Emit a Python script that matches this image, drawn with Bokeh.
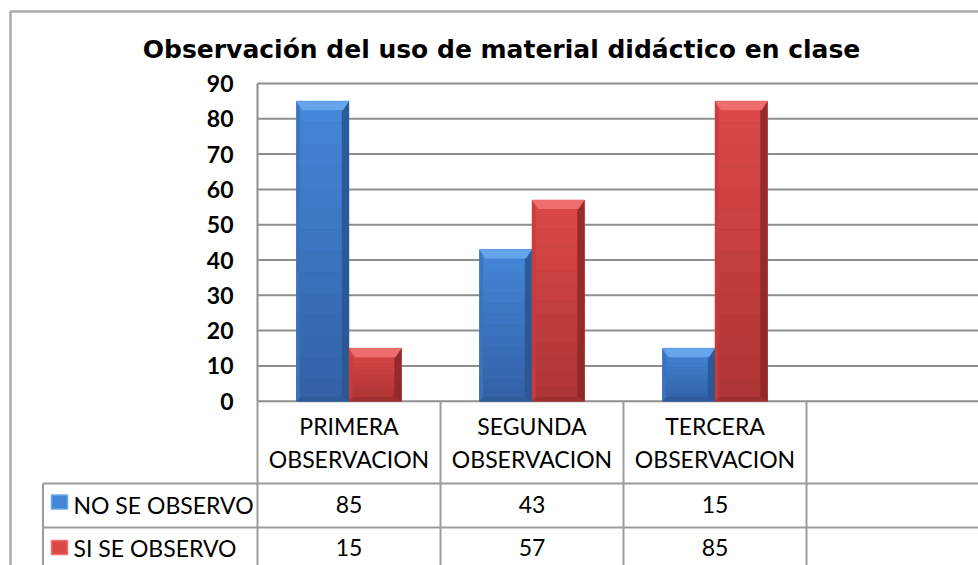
from bokeh.plotting import figure
from bokeh.models import Range1d
from bokeh.core.properties import value
from bokeh.embed import file_html
from bokeh.resources import INLINE

# ---------------- data ----------------
title_text = "Observación del uso de material didáctico en clase"
categories = ["PRIMERA OBSERVACION", "SEGUNDA OBSERVACION", "TERCERA OBSERVACION"]
series_names = ["NO SE OBSERVO", "SI SE OBSERVO"]
no_se_observo = [85, 43, 15]
si_se_observo = [15, 57, 85]
y_ticks = [0, 10, 20, 30, 40, 50, 60, 70, 80, 90]

# ---------------- layout ----------------
W, H = 978, 565
PAGE = 0
PX = 183.0           # pixels per category
PY = 3.53            # pixels per value unit
PLOT_LEFT = 257.0    # x of plot-area left
ZERO_Y = 400.7       # y of value 0


def xp(page_x):
    return (page_x - PLOT_LEFT) / PX


def yp(page_y):
    return (ZERO_Y - page_y) / PY


def mix(c1, c2, t):
    a = [int(c1[i:i + 2], 16) for i in (1, 3, 5)]
    b = [int(c2[i:i + 2], 16) for i in (1, 3, 5)]
    return "#" + "".join("%02x" % round(a[k] + (b[k] - a[k]) * t) for k in range(3))


x_start = xp(PAGE)
x_end = xp(PAGE + W)
y_end = yp(PAGE)
y_start = yp(PAGE + H)

p = figure(width=W, height=H, x_range=Range1d(x_start, x_end), y_range=Range1d(y_start, y_end),
           output_backend="svg", toolbar_location=None, min_border=0,
           x_axis_location=None, y_axis_location=None, outline_line_color=None,
           background_fill_color="white", border_fill_color="white")
p.grid.visible = False

GRID = "#8e8e8e"
TABLE = "#9c9c9c"
FONT = "Lato"

# outer chart border (cropped on right/bottom)
bx_ = xp(10)
by_ = yp(11)
p.line(x=[bx_, bx_, x_end + 1], y=[y_start - 5, by_, by_], line_color="#ababab", line_width=2.5)

# title
p.text(x=[xp(501)], y=[yp(49)], text=[title_text], text_align="center", text_baseline="middle",
       text_font=value("DejaVu Sans"), text_font_style="bold", text_font_size="25px",
       text_color="black")

# gridlines
p.multi_line(xs=[[0, x_end + 1] for _ in y_ticks], ys=[[t, t] for t in y_ticks],
             line_color=GRID, line_width=2)
# plot-area left border
p.line(x=[0, 0], y=[0, max(y_ticks)], line_color=GRID, line_width=2)

# y tick labels
p.text(x=[0] * len(y_ticks), y=y_ticks, text=[str(t) for t in y_ticks], x_offset=-24,
       text_align="right", text_baseline="middle", text_font=value(FONT),
       text_font_style="bold", text_font_size="23px", text_color="black")

# ---------------- bars ----------------
BW = 52.5 / PX
n = len(categories)
styles = [
    dict(hi="#4486d8", lo="#3362a6", top="#6aa9ee", left="#3a73bd", right="#2a5792", bottom="#2d5b98"),
    dict(hi="#dc4848", lo="#ae3535", top="#f27171", left="#c63d3d", right="#8f2828", bottom="#9c2f2f"),
]
series_vals = [no_se_observo, si_se_observo]
offsets = [-BW / 2, BW / 2]
bvx = 6 / PX
bvy = 9 / PY
NB = 14
for vals, off, st in zip(series_vals, offsets, styles):
    xs = [i + 0.5 + off for i in range(n)]
    p.vbar(x=xs, top=vals, bottom=0, width=BW, fill_color=st["lo"], line_color=None)
    # vertical gradient of the bar body
    ql, qr, qt, qb, qc = [], [], [], [], []
    for xc, v in zip(xs, vals):
        for k in range(NB):
            ql.append(xc - BW / 2)
            qr.append(xc + BW / 2)
            qt.append(v - v * k / NB)
            qb.append(v - v * (k + 1) / NB)
            qc.append(mix(st["hi"], st["lo"], k / (NB - 1)))
    p.quad(left=ql, right=qr, top=qt, bottom=qb, fill_color=qc, line_color=qc, line_width=0.5)
    tops, lefts, rights, bottoms = [], [], [], []
    for xc, v in zip(xs, vals):
        L, R, T, B = xc - BW / 2, xc + BW / 2, v, 0
        tops.append(([L, R, R - bvx, L + bvx], [T, T, T - bvy, T - bvy]))
        rights.append(([R, R, R - bvx * 1.2, R - bvx * 1.2], [T, B, B + bvy * 0.5, T - bvy]))
        lefts.append(([L, L + bvx * 0.6, L + bvx * 0.6, L], [T, T - bvy, B + bvy * 0.5, B]))
        bottoms.append(([L, R, R - bvx, L + bvx], [B, B, B + bvy * 0.5, B + bvy * 0.5]))
    for parts, col in ((lefts, st["left"]), (rights, st["right"]), (bottoms, st["bottom"]), (tops, st["top"])):
        p.patches(xs=[a for a, _ in parts], ys=[b for _, b in parts], fill_color=col, line_color=None,
                  fill_alpha=0.9)

# ---------------- data table ----------------
LEG_LEFT = xp(42.5)
ROW0_BOTTOM = yp(483)
ROW1_BOTTOM = yp(527)
# vertical lines
p.multi_line(xs=[[i, i] for i in range(n + 1)], ys=[[0, y_start - 5] for _ in range(n + 1)],
             line_color=TABLE, line_width=2)
p.line(x=[LEG_LEFT, LEG_LEFT], y=[ROW0_BOTTOM, y_start - 5], line_color=TABLE, line_width=2)
p.multi_line(xs=[[LEG_LEFT, x_end + 1], [LEG_LEFT, x_end + 1]], ys=[[ROW0_BOTTOM] * 2, [ROW1_BOTTOM] * 2],
             line_color=TABLE, line_width=2)

# header texts
line1 = [c.split(" ")[0] for c in categories]
line2 = [" ".join(c.split(" ")[1:]) for c in categories]
cx = [i + 0.5 for i in range(n)]
p.text(x=cx, y=[yp(425)] * n, text=line1, text_align="center", text_baseline="middle",
       text_font=value(FONT), text_font_size="23px", text_color="black")
p.text(x=cx, y=[yp(458)] * n, text=line2, text_align="center", text_baseline="middle",
       text_font=value(FONT), text_font_size="23px", text_color="black")

# rows
row_y = [yp(504), yp(547)]
icon_y = [yp(501.5), yp(547)]
for k, (name, vals, st) in enumerate(zip(series_names, series_vals, styles)):
    p.rect(x=[xp(59)], y=[icon_y[k]], width=16 / PX, height=14 / PY, fill_color=st["hi"],
           line_color=st["top"], line_width=1.5)
    p.text(x=[xp(73)], y=[row_y[k]], text=[name], text_align="left", text_baseline="middle",
           text_font=value(FONT), text_font_size="23px", text_color="black")
    p.text(x=cx, y=[row_y[k]] * n, text=[str(v) for v in vals], text_align="center",
           text_baseline="middle", text_font=value(FONT), text_font_size="23px", text_color="black")

open("out.html", "w").write(file_html(p, INLINE))
